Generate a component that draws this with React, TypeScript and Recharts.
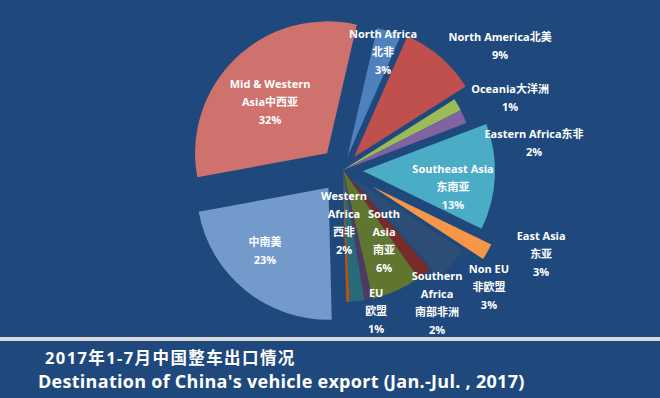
import React from 'react';
import { PieChart, Pie, Cell } from 'recharts';

// ---------- data ----------
const regions = [
  'North Africa', 'North America', 'Oceania', 'Eastern Africa', 'Southeast Asia',
  'East Asia', 'Non EU', 'Southern Africa', 'South Asia', 'EU', 'Western Africa',
  'Other', 'Central & South America', 'Mid & Western Asia',
];
const shares = [3.0, 9.4, 1.5, 1.7, 13.0, 2.0, 4.3, 1.8, 6.1, 1.0, 1.8, 0.4, 22.5, 31.5];
const labelLines: string[][] = [
  ['North Africa', '北非', '3%'],
  ['North America北美', '9%'],
  ['Oceania大洋洲', '1%'],
  ['Eastern Africa东非', '2%'],
  ['Southeast Asia', '东南亚', '13%'],
  ['East Asia', '东亚', '3%'],
  ['Non EU', '非欧盟', '3%'],
  ['Southern', 'Africa', '南部非洲', '2%'],
  ['South', 'Asia', '南亚', '6%'],
  ['EU', '欧盟', '1%'],
  ['Western', 'Africa', '西非', '2%'],
  [],
  ['中南美', '23%'],
  ['Mid & Western', 'Asia中西亚', '32%'],
];
const titleCn = '2017年1-7月中国整车出口情况';
const titleEn = "Destination of China's vehicle export (Jan.-Jul. , 2017)";

// ---------- styles ----------
const BG = '#1f497d';
const colors = [
  '#4f81bd', '#c0504d', '#9bbb59', '#8064a2', '#4bacc6', '#f79646', '#2c4d75',
  '#772c2a', '#5f7530', '#4d3b62', '#276a7c', '#b65708', '#729aca', '#cf716d',
];
const explode = [14, 17, 0, 0, 20, 34, 12, 0, 0, 0, 0, 0, 23, 23];
const labelRadius = [125.5, 200.7, 182.3, 193, 111.2, 214.7, 186.5, 162, 81.1, 143.8, 52, 0, 111.7, 100.4];
const labelShift = [0.2, 10.8, 6.1, 15.6, 5.7, -6.9, -2.4, 2.6, -6.5, -2.2, 5.0, 0, 5.2, -2.9];
const FIRST_SLICE_ANGLE = 13; // clockwise from 12 o'clock
const CX = 343;
const CY = 170;
const R = 132;
const LINE_H = 18;
const labelFont = "'Open Sans', 'Noto Sans CJK SC', sans-serif";
const titleFont = "'Open Sans', 'Noto Sans CJK SC', sans-serif";

const data = regions.map((name, i) => ({ name, value: shares[i] }));
const total = shares.reduce((a, b) => a + b, 0);
const midClockwise = shares.map((v, i) => {
  const before = shares.slice(0, i).reduce((a, b) => a + b, 0);
  return FIRST_SLICE_ANGLE + ((before + v / 2) / total) * 360;
});

const RAD = Math.PI / 180;

const renderLabel = (props: any) => {
  const { index, midAngle } = props;
  const lines = labelLines[index];
  if (!lines || lines.length === 0) return null;
  const cx = CX;
  const cy = CY;
  const theta = (90 - midAngle + labelShift[index]) * RAD;
  const r = labelRadius[index];
  const x = cx + r * Math.sin(theta);
  const yc = cy - r * Math.cos(theta);
  const y0 = yc - ((lines.length - 1) * LINE_H) / 2;
  return (
    <text
      key={`lbl-${index}`}
      x={x}
      y={y0}
      textAnchor="middle"
      dominantBaseline="central"
      fill="#ffffff"
      fontFamily={labelFont}
      fontSize={11}
      fontWeight={700}
    >
      {lines.map((ln, j) => (
        <tspan key={j} x={x} y={y0 + j * LINE_H} dominantBaseline="central">
          {ln}
        </tspan>
      ))}
    </text>
  );
};

export default function App() {
  const start = 90 - FIRST_SLICE_ANGLE;
  return (
    <div
      style={{
        position: 'absolute',
        left: 0,
        top: 0,
        width: 660,
        height: 398,
        background: BG,
        overflow: 'hidden',
      }}
    >
      <PieChart width={660} height={338} margin={{ top: 0, right: 0, bottom: 0, left: 0 }}>
        {data.map((_, k) => {
          const th = midClockwise[k] * RAD;
          const ox = explode[k] * Math.sin(th);
          const oy = -explode[k] * Math.cos(th);
          return (
            <Pie
              key={`pie-${k}`}
              data={data}
              dataKey="value"
              nameKey="name"
              cx={CX + ox}
              cy={CY + oy}
              innerRadius={0}
              outerRadius={R}
              startAngle={start}
              endAngle={start - 360}
              stroke="none"
              isAnimationActive={false}
              label={false}
              labelLine={false}
            >
              {data.map((__, i) => (
                <Cell key={i} fill={i === k ? colors[i] : 'transparent'} stroke="none" />
              ))}
            </Pie>
          );
        })}
        <Pie
          key="labels"
          data={data}
          dataKey="value"
          nameKey="name"
          cx={CX}
          cy={CY}
          innerRadius={0}
          outerRadius={R}
          startAngle={start}
          endAngle={start - 360}
          stroke="none"
          fill="transparent"
          isAnimationActive={false}
          label={renderLabel}
          labelLine={false}
        >
          {data.map((__, i) => (
            <Cell key={i} fill="transparent" stroke="none" />
          ))}
        </Pie>
      </PieChart>
      <div
        style={{
          position: 'absolute',
          left: 0,
          top: 337,
          width: 660,
          height: 4,
          background: '#d9d9d9',
        }}
      />
      <svg width={660} height={57} style={{ position: 'absolute', left: 0, top: 341 }}>
        <text x={45} y={23} fill="#ffffff" fontFamily={titleFont} fontWeight={700} fontSize={16.5} letterSpacing={1.4}>
          {titleCn}
        </text>
        <text x={38} y={47} fill="#ffffff" fontFamily={titleFont} fontWeight={700} fontSize={18} letterSpacing={0.28}>
          {titleEn}
        </text>
      </svg>
    </div>
  );
}
